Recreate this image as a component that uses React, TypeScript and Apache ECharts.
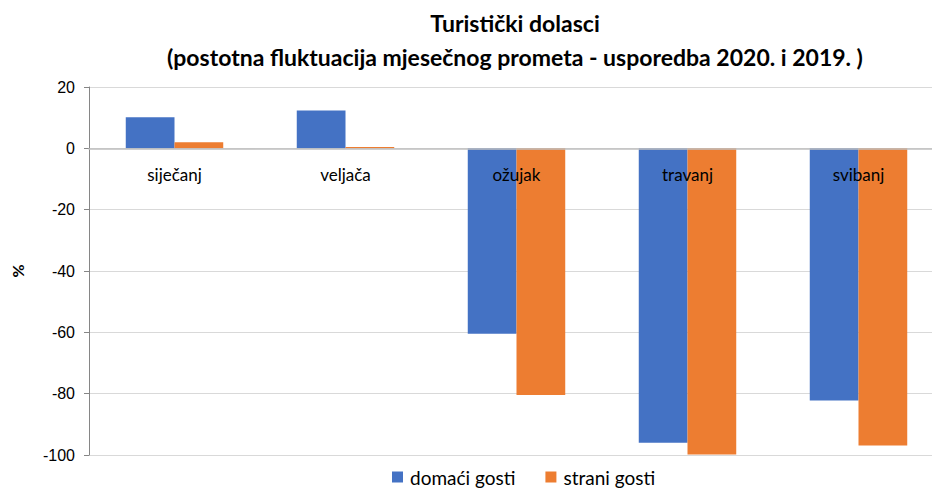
import React, { useEffect, useRef } from "react";
import * as echarts from "echarts";

const categories = ["siječanj", "veljača", "ožujak", "travanj", "svibanj"];
const domaci = [10.1, 12.3, -60.5, -96.0, -82.2];
const strani = [2.0, 0.4, -80.4, -99.8, -96.9];
const titleLines = ["Turistički dolasci", "(postotna fluktuacija mjesečnog prometa - usporedba 2020. i 2019. )"];
const yMin = -100;
const yMax = 20;

export default function App() {
  const ref = useRef<HTMLDivElement>(null);
  useEffect(() => {
    const chart = echarts.init(ref.current!, null, { renderer: "svg" });
    const gridTop = 87;
    const gridBottom = 36;
    const plotH = 491 - gridTop - gridBottom;
    const zeroOffset = ((0 - yMin) / (yMax - yMin)) * plotH;
    chart.setOption({
      animation: false,
      backgroundColor: "#ffffff",
      title: {
        text: titleLines.join("\n"),
        left: 510,
        textAlign: "center",
        top: 1,
        textStyle: { fontFamily: "Lato", fontWeight: "bold", fontSize: 23, color: "#000", lineHeight: 34 },
      },
      legend: {
        top: 466,
        left: 392,
        padding: 0,
        itemWidth: 11,
        itemHeight: 11,
        itemGap: 30,
        icon: "rect",
        textStyle: { fontFamily: "Lato", fontSize: 19, lineHeight: 22, color: "#000", padding: [0, 0, 0, 2] },
        data: ["domaći gosti", "strani gosti"],
      },
      grid: { left: 89, width: 855, top: gridTop, bottom: gridBottom, containLabel: false },
      xAxis: {
        type: "category",
        data: categories,
        offset: -zeroOffset,
        z: 10,
        axisLine: { onZero: false, lineStyle: { color: "#bfbfbf", width: 1.5 } },
        axisTick: { show: false },
        axisLabel: { fontFamily: "Lato", fontSize: 17, color: "#000", margin: 18 },
      },
      yAxis: {
        type: "value",
        min: yMin,
        max: yMax,
        interval: 20,
        name: "%",
        nameLocation: "middle",
        nameRotate: 90,
        nameGap: 64,
        nameTextStyle: { fontFamily: "Lato", fontWeight: "bold", fontSize: 16, color: "#000" },
        axisLine: { show: true, lineStyle: { color: "#868686" } },
        axisTick: { show: true, length: 5, lineStyle: { color: "#868686" } },
        axisLabel: { fontFamily: "Liberation Sans", fontSize: 16, color: "#000", margin: 14 },
        splitLine: { lineStyle: { color: "#d9d9d9", width: 1 } },
      },
      series: [
        {
          name: "domaći gosti",
          type: "bar",
          data: domaci,
          barGap: "0%",
          barCategoryGap: "43%",
          itemStyle: { color: "#4472C4" },
        },
        {
          name: "strani gosti",
          type: "bar",
          data: strani,
          barGap: "0%",
          barCategoryGap: "43%",
          itemStyle: { color: "#ED7D31" },
        },
      ],
    });
    return () => chart.dispose();
  }, []);
  return (
    <div style={{ width: 932, height: 491, position: "absolute", left: 0, top: 0, overflow: "hidden" }}>
      <div ref={ref} style={{ width: 960, height: 491, position: "absolute", left: 0, top: 0 }} />
    </div>
  );
}
